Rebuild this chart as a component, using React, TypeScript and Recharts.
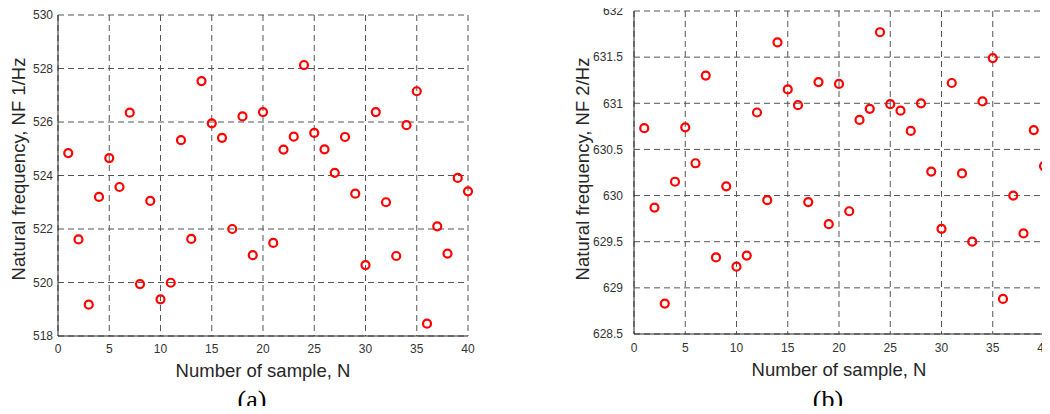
import React from 'react'
import { CartesianGrid, Scatter, ScatterChart, XAxis, YAxis } from 'recharts'

const sampleNo = [
    1, 2, 3, 4, 5, 6, 7, 8, 9, 10, 11, 12, 13, 14, 15, 16, 17, 18, 19, 20,
    21, 22, 23, 24, 25, 26, 27, 28, 29, 30, 31, 32, 33, 34, 35, 36, 37, 38, 39, 40,
]
const nf1 = [
    524.84, 521.61, 519.17, 523.2, 524.65, 523.57, 526.35, 519.94, 523.05, 519.37,
    519.99, 525.32, 521.63, 527.53, 525.95, 525.41, 522.0, 526.21, 521.02, 526.37,
    521.48, 524.97, 525.45, 528.13, 525.59, 524.98, 524.1, 525.44, 523.32, 520.65,
    526.37, 523.0, 520.99, 525.88, 527.15, 518.46, 522.1, 521.08, 523.91, 523.41,
]
const nf2 = [
    630.73, 629.87, 628.83, 630.15, 630.74, 630.35, 631.3, 629.33, 630.1, 629.23,
    629.35, 630.9, 629.95, 631.66, 631.15, 630.98, 629.93, 631.23, 629.69, 631.21,
    629.83, 630.82, 630.94, 631.77, 630.99, 630.92, 630.7, 631.0, 630.26, 629.64,
    631.22, 630.24, 629.5, 631.02, 631.49, 628.88, 630.0, 629.59, 630.71, 630.32,
]
const xTicks = [0, 5, 10, 15, 20, 25, 30, 35, 40]
const nf1Ticks = [518, 520, 522, 524, 526, 528, 530]
const nf2Ticks = [628.5, 629, 629.5, 630, 630.5, 631, 631.5, 632]

const SANS = '"Liberation Sans", Arial, sans-serif'
const SERIF = '"Liberation Serif", "Times New Roman", serif'
const AXIS = '#262626'
const GRID = '#555'

const data1 = sampleNo.map((n, i) => ({ n, v: nf1[i] }))
const data2 = sampleNo.map((n, i) => ({ n, v: nf2[i] }))

const Ring = (props: any) => (
    <circle cx={props.cx} cy={props.cy} r={4} fill="none" stroke="#ff0000" strokeWidth={2.2} />
)

type PanelProps = {
    data: { n: number; v: number }[]
    yTicks: number[]
    yTitle: string
    caption: string
    left: number
    width: number
    top: number
    right: number
    yWidth: number
    xHeight: number
    yTickGap: number
    xTickGap: number
    yTitleX: number
    yTitleY: number
    xTitleY: number
}

function Panel(p: PanelProps) {
    const lo = p.yTicks[0]
    const hi = p.yTicks[p.yTicks.length - 1]
    const xLabel = ({ viewBox }: any) => {
        const cx = viewBox.x + viewBox.width / 2
        return (
            <g>
                <text x={cx} y={p.xTitleY} textAnchor="middle" fontFamily={SANS} fontSize={18.5} fill={AXIS}>
                    Number of sample, N
                </text>
                <text x={cx - 11} y={408} textAnchor="middle" fontFamily={SERIF} fontSize={26} fill="#000">
                    {p.caption}
                </text>
            </g>
        )
    }
    const yLabel = () => (
        <text
            x={p.yTitleX}
            y={p.yTitleY}
            transform={`rotate(-90, ${p.yTitleX}, ${p.yTitleY})`}
            textAnchor="middle"
            fontFamily={SANS}
            fontSize={18.5}
            fill={AXIS}
        >
            {p.yTitle}
        </text>
    )
    return (
        <div style={{ position: 'absolute', left: p.left, top: 0 }}>
            <ScatterChart
                width={p.width}
                height={414}
                margin={{ top: p.top, right: p.right, bottom: 0, left: 0 }}
            >
                <CartesianGrid strokeDasharray="6 4" stroke={GRID} />
                <XAxis
                    type="number"
                    dataKey="n"
                    domain={[0, 40]}
                    ticks={xTicks}
                    height={p.xHeight}
                    tickSize={0}
                    tickMargin={p.xTickGap}
                    stroke={AXIS}
                    tick={{ fill: '#333', fontSize: 12, fontFamily: SANS }}
                    label={{ content: xLabel }}
                />
                <XAxis
                    xAxisId="top"
                    orientation="top"
                    type="number"
                    domain={[0, 40]}
                    ticks={xTicks}
                    allowDataOverflow
                    mirror
                    height={0}
                    tickSize={4}
                    tickFormatter={() => ''}
                    stroke={AXIS}
                />
                <YAxis
                    type="number"
                    dataKey="v"
                    domain={[lo, hi]}
                    ticks={p.yTicks}
                    allowDataOverflow
                    width={p.yWidth}
                    tickSize={0}
                    tickMargin={p.yTickGap}
                    stroke={AXIS}
                    tick={{ fill: '#333', fontSize: 12, fontFamily: SANS }}
                    label={{ content: yLabel }}
                />
                <YAxis
                    yAxisId="right"
                    orientation="right"
                    type="number"
                    domain={[lo, hi]}
                    ticks={p.yTicks}
                    allowDataOverflow
                    mirror
                    width={0}
                    tickSize={4}
                    tickFormatter={() => ''}
                    stroke={AXIS}
                />
                <Scatter data={p.data} shape={Ring} isAnimationActive={false} />
            </ScatterChart>
        </div>
    )
}

export default function App() {
    return (
        <div style={{ position: 'relative', width: 1050, height: 414, margin: -8, background: '#fff', overflow: 'hidden' }}>
            <Panel
                data={data1}
                yTicks={nf1Ticks}
                yTitle="Natural frequency, NF 1/Hz"
                caption="(a)"
                left={0}
                width={480}
                top={15}
                right={12}
                yWidth={58}
                xHeight={78}
                yTickGap={5}
                xTickGap={8}
                yTitleX={25}
                yTitleY={169}
                xTitleY={377}
            />
            <Panel
                data={data2}
                yTicks={nf2Ticks}
                yTitle="Natural frequency, NF 2/Hz"
                caption="(b)"
                left={530}
                width={520}
                top={11}
                right={6}
                yWidth={104}
                xHeight={80}
                yTickGap={11}
                xTickGap={9}
                yTitleX={59}
                yTitleY={169}
                xTitleY={376}
            />
        </div>
    )
}
